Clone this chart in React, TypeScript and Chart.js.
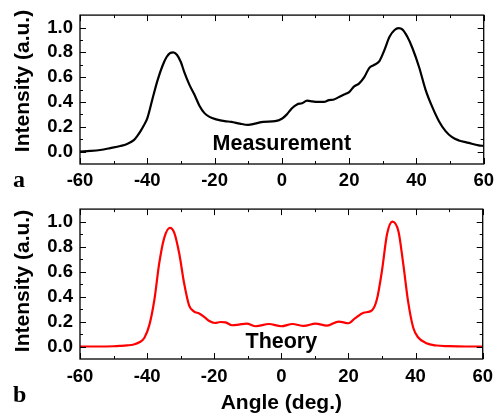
import React, { useEffect, useRef } from "react";
import { Chart, registerables } from "chart.js";

Chart.register(...registerables);

// ---- Data ----
const measAngle = [
  -60, -57, -54, -51, -48, -46, -44, -43, -42, -41, -40, -38.5, -37, -35.5, -34.3, -33.2, -32.3, -31.2,
  -30, -29, -27.5, -26, -24.5, -23, -21.5, -19.5, -17, -15, -12.5, -10, -8, -5.5, -2, 0, 1.5, 3, 4.5, 6,
  7.5, 9, 10.5, 12.5, 14, 15.5, 17, 18.5, 20, 21.5, 23, 24.5, 26, 27.5, 29, 30.5, 32, 33.5, 34.7, 35.8,
  37.3, 38.8, 40.8, 42.7, 44.7, 46.7, 48.6, 50.6, 52.6, 55.5, 58.5, 60,
];
const measIntensity = [
  0.0, 0.005, 0.013, 0.028, 0.045, 0.062, 0.092, 0.125, 0.165, 0.212, 0.268, 0.42, 0.57, 0.69, 0.76,
  0.795, 0.8, 0.78, 0.72, 0.64, 0.54, 0.46, 0.37, 0.31, 0.28, 0.26, 0.245, 0.24, 0.225, 0.215, 0.225,
  0.24, 0.245, 0.265, 0.3, 0.35, 0.38, 0.39, 0.41, 0.405, 0.4, 0.4, 0.415, 0.42, 0.44, 0.46, 0.48,
  0.525, 0.55, 0.6, 0.675, 0.7, 0.73, 0.82, 0.925, 0.98, 0.995, 0.985, 0.925, 0.835, 0.68, 0.5, 0.36,
  0.245, 0.167, 0.116, 0.09, 0.07, 0.05, 0.046,
];

const theoryAngle = [
  -60, -55, -50, -48, -46, -44, -42.3, -40.8, -39.3, -37.8, -36.4, -34.9, -33.2, -31.9, -30.4, -29,
  -27.5, -26, -24.5, -23.1, -21.6, -19.8, -18.1, -16.6, -14.7, -12.7, -10.3, -7.6, -3.7, 0, 3.3, 6.7,
  10.2, 13.6, 17.1, 20, 22, 24.5, 27, 28.5, 30, 31.5, 33.1, 34.9, 36.3, 37.8, 39.3, 40.8, 43.2, 46.2,
  49.7, 55, 60,
];
const theoryIntensity = [
  0, 0, 0.002, 0.005, 0.009, 0.016, 0.034, 0.07, 0.175, 0.38, 0.665, 0.87, 0.95, 0.91, 0.74, 0.51,
  0.33, 0.28, 0.265, 0.24, 0.206, 0.188, 0.196, 0.193, 0.17, 0.175, 0.183, 0.162, 0.18, 0.162, 0.18,
  0.165, 0.183, 0.167, 0.2, 0.186, 0.227, 0.27, 0.29, 0.38, 0.61, 0.9, 1.0, 0.92, 0.665, 0.355, 0.15,
  0.072, 0.026, 0.008, 0.003, 0, 0,
];

const xTickLabels = [-60, -40, -20, 0, 20, 40, 60];
const yTickLabels = [0, 0.2, 0.4, 0.6, 0.8, 1.0];
const yTitle = "Intensity (a.u.)";
const xTitle = "Angle (deg.)";

const SANS = '"Liberation Sans", Arial, sans-serif';
const SERIF = '"Liberation Serif", "Times New Roman", serif';

const CANVAS_W = 500;

const framePlugin = {
  id: "frameAndNotes",
  afterDraw(chart: any, _args: any, o: any) {
    const { ctx, chartArea: a } = chart;
    const x = chart.scales.x;
    const y = chart.scales.y;
    ctx.save();
    ctx.strokeStyle = "#000";
    ctx.lineWidth = 1.3;
    ctx.strokeRect(a.left, a.top, a.right - a.left, a.bottom - a.top);
    ctx.lineWidth = 1;
    ctx.beginPath();
    for (let v = -60; v <= 60; v += 10) {
      const px = Math.round(x.getPixelForValue(v)) + 0.5;
      const len = v % 20 === 0 ? 6 : 3;
      ctx.moveTo(px, a.bottom);
      ctx.lineTo(px, a.bottom - len);
      ctx.moveTo(px, a.top);
      ctx.lineTo(px, a.top + len);
    }
    for (let i = 0; i <= 10; i++) {
      const py = Math.round(y.getPixelForValue(i / 10)) + 0.5;
      const len = i % 2 === 0 ? 6 : 3;
      ctx.moveTo(a.left, py);
      ctx.lineTo(a.left + len, py);
      ctx.moveTo(a.right, py);
      ctx.lineTo(a.right - len, py);
    }
    ctx.stroke();

    ctx.fillStyle = "#000";
    ctx.font = `bold 21.5px ${SANS}`;
    ctx.textAlign = "center";
    ctx.textBaseline = "alphabetic";
    ctx.fillText(o.note, (a.left + a.right) / 2, o.noteY);

    ctx.font = `bold 24px ${SERIF}`;
    ctx.textAlign = "left";
    ctx.fillText(o.letter, 13, o.letterY);

    ctx.translate(23, o.titleY);
    ctx.rotate(-Math.PI / 2);
    ctx.font = `bold 21px ${SANS}`;
    ctx.textAlign = "center";
    ctx.textBaseline = "middle";
    ctx.fillText(yTitle, 0, 0);
    ctx.restore();
  },
};

function makeConfig(p: {
  xs: number[];
  ys: number[];
  color: string;
  height: number;
  axisBottom: number;
  tickPad: number;
  showXTitle: boolean;
  note: string;
  noteY: number;
  letter: string;
  letterY: number;
  titleY: number;
}): any {
  return {
    type: "line",
    data: {
      datasets: [
        {
          data: p.xs.map((v, i) => ({ x: v, y: p.ys[i] })),
          borderColor: p.color,
          borderWidth: 2.2,
          pointRadius: 0,
          fill: false,
          cubicInterpolationMode: "monotone",
        },
      ],
    },
    options: {
      responsive: false,
      maintainAspectRatio: false,
      animation: false,
      devicePixelRatio: 1,
      layout: { padding: { top: 12, right: 15, left: 0, bottom: 0 } },
      plugins: {
        legend: { display: false },
        tooltip: { enabled: false },
        frameAndNotes: {
          note: p.note,
          noteY: p.noteY,
          letter: p.letter,
          letterY: p.letterY,
          titleY: p.titleY,
        },
      },
      scales: {
        x: {
          type: "linear",
          min: -60,
          max: 60,
          grid: { display: false, drawTicks: false },
          border: { display: false },
          afterBuildTicks: (s: any) => {
            s.ticks = xTickLabels.map((v) => ({ value: v }));
          },
          afterFit: (s: any) => {
            s.height = p.height - p.axisBottom;
          },
          ticks: {
            padding: p.tickPad,
            color: "#000",
            maxRotation: 0,
            autoSkip: false,
            font: { family: SANS, size: 18.5, weight: "bold" },
            callback: (v: any) => String(v),
          },
          title: {
            display: p.showXTitle,
            text: xTitle,
            color: "#000",
            font: { family: SANS, size: 21, weight: "bold" },
            padding: { top: 0, bottom: 3 },
          },
        },
        y: {
          type: "linear",
          min: -0.1,
          max: 1.1,
          grid: { display: false, drawTicks: false },
          border: { display: false },
          afterBuildTicks: (s: any) => {
            s.ticks = yTickLabels.map((v) => ({ value: v }));
          },
          afterFit: (s: any) => {
            s.width = 80;
          },
          ticks: {
            padding: 7,
            color: "#000",
            autoSkip: false,
            font: { family: SANS, size: 18.5, weight: "bold" },
            callback: (v: any) => Number(v).toFixed(1),
          },
        },
      },
    },
    plugins: [framePlugin],
  };
}

export default function App() {
  const topRef = useRef<HTMLCanvasElement | null>(null);
  const botRef = useRef<HTMLCanvasElement | null>(null);

  useEffect(() => {
    if (!topRef.current || !botRef.current) return;
    const c1 = new Chart(
      topRef.current,
      makeConfig({
        xs: measAngle,
        ys: measIntensity,
        color: "#000000",
        height: 220,
        axisBottom: 167,
        tickPad: 6,
        showXTitle: false,
        note: "Measurement",
        noteY: 153,
        letter: "a",
        letterY: 190,
        titleY: 84,
      })
    );
    const c2 = new Chart(
      botRef.current,
      makeConfig({
        xs: theoryAngle,
        ys: theoryIntensity,
        color: "#ff0000",
        height: 228,
        axisBottom: 168,
        tickPad: 7,
        showXTitle: true,
        note: "Theory",
        noteY: 157,
        letter: "b",
        letterY: 211,
        titleY: 90,
      })
    );
    return () => {
      c1.destroy();
      c2.destroy();
    };
  }, []);

  return (
    <div
      style={{
        position: "absolute",
        left: 0,
        top: 0,
        width: 500,
        height: 419,
        overflow: "hidden",
        background: "#fff",
      }}
    >
      <canvas
        ref={topRef}
        width={CANVAS_W}
        height={220}
        style={{ position: "absolute", left: 0, top: -3, width: CANVAS_W, height: 220 }}
      />
      <canvas
        ref={botRef}
        width={CANVAS_W}
        height={228}
        style={{ position: "absolute", left: 0, top: 191, width: CANVAS_W, height: 228 }}
      />
    </div>
  );
}
